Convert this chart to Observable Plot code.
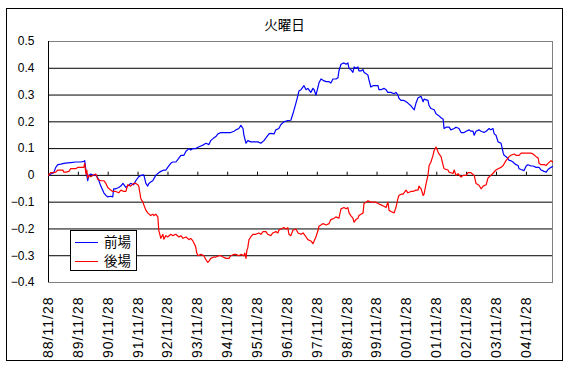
<!DOCTYPE html>
<html>
<head>
<meta charset="utf-8">
<script src="https://cdn.jsdelivr.net/npm/d3@7"></script>
<script src="https://cdn.jsdelivr.net/npm/@observablehq/plot@0.6"></script>
<style>
  html, body { margin: 0; padding: 0; background: #fff; }
  #wrap { position: relative; width: 580px; height: 378px; overflow: hidden; }
  #border { position: absolute; left: 6px; top: 8px; width: 555px; height: 351px; border: 1px solid #000; pointer-events: none; }
  #legend { position: absolute; left: 70px; top: 230px; width: 65px; height: 39px; border: 1px solid #000; background: #fff;
            font-family: "Noto Sans CJK JP", sans-serif; font-size: 13.5px; color: #000; }
  .lg { position: absolute; left: 4px; height: 18px; width: 70px; }
  .lg span.sw { position: absolute; left: 0; top: 9px; width: 23px; height: 0; border-top: 1px solid; }
  .lg span.tx { position: absolute; left: 29px; top: -1px; line-height: 18px; }
</style>
</head>
<body>
<div id="wrap">
  <div id="chart"></div>
  <div id="border"></div>
  <div id="legend">
    <div class="lg" style="top:2px"><span class="sw" style="border-color:#0000ff"></span><span class="tx">前場</span></div>
    <div class="lg" style="top:21px"><span class="sw" style="border-color:#ff0000"></span><span class="tx">後場</span></div>
  </div>
</div>
<script>
// ---- data (decimal years) ----
const title = "火曜日";
const seriesNames = ["前場", "後場"];
const yTicks = [-0.4, -0.3, -0.2, -0.1, 0, 0.1, 0.2, 0.3, 0.4, 0.5];
const xTickYears = [1988,1989,1990,1991,1992,1993,1994,1995,1996,1997,1998,1999,2000,2001,2002,2003,2004];

const zenbaT = [1988.91,1988.98,1989.08,1989.15,1989.22,1989.32,1989.42,1989.55,1989.65,1989.82,1989.99,1990.09,1990.12,1990.16,1990.19,1990.22,1990.26,1990.32,1990.42,1990.49,1990.56,1990.66,1990.76,1990.83,1990.89,1990.99,1991.06,1991.09,1991.16,1991.26,1991.33,1991.40,1991.50,1991.56,1991.66,1991.76,1991.83,1991.93,1992.00,1992.10,1992.17,1992.23,1992.27,1992.33,1992.40,1992.50,1992.60,1992.67,1992.77,1992.84,1992.90,1993.00,1993.07,1993.17,1993.24,1993.34,1993.44,1993.51,1993.61,1993.67,1993.74,1993.84,1993.91,1994.01,1994.11,1994.18,1994.28,1994.34,1994.44,1994.51,1994.58,1994.68,1994.85,1995.01,1995.12,1995.18,1995.28,1995.35,1995.42,1995.45,1995.52,1995.58,1995.68,1995.78,1995.92,1996.02,1996.12,1996.19,1996.29,1996.35,1996.46,1996.52,1996.62,1996.69,1996.79,1996.92,1997.02,1997.09,1997.19,1997.26,1997.29,1997.36,1997.46,1997.53,1997.59,1997.69,1997.76,1997.80,1997.86,1997.93,1997.96,1998.03,1998.10,1998.20,1998.30,1998.36,1998.43,1998.53,1998.60,1998.63,1998.70,1998.80,1998.87,1998.93,1998.97,1999.03,1999.10,1999.14,1999.20,1999.27,1999.30,1999.37,1999.44,1999.47,1999.54,1999.60,1999.64,1999.70,1999.77,1999.87,1999.94,1999.97,2000.04,2000.14,2000.21,2000.27,2000.37,2000.48,2000.54,2000.61,2000.64,2000.71,2000.81,2000.88,2000.94,2001.04,2001.11,2001.15,2001.21,2001.28,2001.38,2001.45,2001.48,2001.61,2001.65,2001.71,2001.82,2001.88,2001.95,2002.05,2002.12,2002.15,2002.22,2002.32,2002.38,2002.49,2002.55,2002.65,2002.72,2002.82,2002.89,2002.99,2003.05,2003.12,2003.16,2003.22,2003.32,2003.39,2003.49,2003.56,2003.66,2003.72,2003.79,2003.83,2003.89,2003.96,2004.06,2004.13,2004.16,2004.23,2004.29,2004.33,2004.39,2004.46,2004.50,2004.56,2004.63,2004.66,2004.73,2004.83,2004.90,2004.96,2005.06,2005.13,2005.23,2005.33,2005.40,2005.50,2005.57,2005.63,2005.73,2005.78];
const zenbaV = [0.000,0.005,0.010,0.030,0.040,0.042,0.045,0.047,0.048,0.050,0.050,0.052,0.055,0.020,0.000,-0.020,0.000,0.005,0.000,0.002,-0.010,-0.040,-0.065,-0.075,-0.080,-0.078,-0.080,-0.050,-0.050,-0.045,-0.040,-0.030,-0.045,-0.040,-0.030,-0.035,-0.020,-0.005,0.000,0.002,-0.030,-0.040,-0.030,-0.025,-0.020,0.000,0.010,0.015,0.020,0.020,0.030,0.045,0.050,0.050,0.060,0.075,0.075,0.090,0.100,0.095,0.100,0.100,0.105,0.110,0.115,0.120,0.115,0.130,0.140,0.145,0.155,0.160,0.160,0.160,0.165,0.170,0.175,0.187,0.175,0.150,0.120,0.130,0.125,0.125,0.125,0.120,0.130,0.140,0.155,0.157,0.155,0.170,0.175,0.190,0.200,0.205,0.206,0.230,0.270,0.300,0.315,0.320,0.335,0.320,0.325,0.310,0.325,0.320,0.300,0.330,0.345,0.360,0.355,0.350,0.350,0.345,0.360,0.360,0.365,0.390,0.415,0.420,0.415,0.420,0.400,0.395,0.385,0.405,0.400,0.405,0.390,0.390,0.395,0.385,0.380,0.375,0.355,0.330,0.335,0.335,0.335,0.320,0.320,0.325,0.320,0.310,0.310,0.305,0.310,0.300,0.288,0.280,0.280,0.275,0.270,0.260,0.250,0.245,0.270,0.290,0.295,0.275,0.285,0.280,0.260,0.250,0.245,0.230,0.225,0.215,0.210,0.175,0.180,0.180,0.170,0.175,0.180,0.175,0.160,0.160,0.165,0.170,0.165,0.165,0.150,0.165,0.170,0.165,0.160,0.165,0.175,0.170,0.175,0.155,0.150,0.125,0.120,0.085,0.075,0.070,0.063,0.056,0.055,0.050,0.045,0.040,0.037,0.025,0.022,0.018,0.035,0.040,0.035,0.035,0.030,0.030,0.020,0.015,0.012,0.022,0.030,0.033];

const gobaT = [1988.91,1988.98,1989.08,1989.15,1989.22,1989.32,1989.39,1989.42,1989.49,1989.59,1989.65,1989.75,1989.82,1989.89,1989.99,1990.09,1990.12,1990.16,1990.19,1990.22,1990.26,1990.32,1990.39,1990.49,1990.56,1990.66,1990.76,1990.83,1990.89,1990.99,1991.06,1991.16,1991.26,1991.33,1991.43,1991.50,1991.56,1991.66,1991.76,1991.83,1991.90,1991.93,1992.00,1992.07,1992.10,1992.17,1992.23,1992.33,1992.40,1992.44,1992.50,1992.57,1992.60,1992.67,1992.74,1992.77,1992.84,1992.90,1993.00,1993.07,1993.17,1993.27,1993.34,1993.41,1993.51,1993.61,1993.67,1993.74,1993.81,1993.84,1993.87,1993.91,1994.01,1994.11,1994.18,1994.24,1994.28,1994.34,1994.44,1994.51,1994.61,1994.68,1994.75,1994.85,1994.95,1995.01,1995.12,1995.18,1995.28,1995.35,1995.45,1995.48,1995.52,1995.55,1995.58,1995.62,1995.68,1995.75,1995.85,1995.95,1996.02,1996.09,1996.19,1996.25,1996.35,1996.42,1996.52,1996.59,1996.62,1996.69,1996.79,1996.86,1996.92,1996.96,1997.02,1997.09,1997.19,1997.26,1997.36,1997.43,1997.53,1997.59,1997.69,1997.76,1997.80,1997.86,1997.93,1997.96,1998.03,1998.10,1998.20,1998.30,1998.36,1998.47,1998.53,1998.63,1998.70,1998.80,1998.87,1998.93,1998.97,1999.03,1999.10,1999.14,1999.20,1999.27,1999.30,1999.37,1999.44,1999.47,1999.54,1999.60,1999.70,1999.81,1999.87,1999.94,2000.04,2000.14,2000.21,2000.27,2000.31,2000.37,2000.48,2000.54,2000.61,2000.64,2000.71,2000.78,2000.88,2000.94,2001.04,2001.11,2001.21,2001.28,2001.31,2001.38,2001.45,2001.48,2001.55,2001.61,2001.65,2001.71,2001.78,2001.82,2001.88,2001.95,2001.98,2002.05,2002.12,2002.15,2002.28,2002.32,2002.38,2002.45,2002.49,2002.55,2002.62,2002.72,2002.79,2002.89,2002.95,2002.99,2003.05,2003.16,2003.22,2003.32,2003.39,2003.46,2003.56,2003.62,2003.72,2003.79,2003.89,2003.96,2004.06,2004.13,2004.23,2004.29,2004.33,2004.39,2004.50,2004.56,2004.66,2004.73,2004.90,2005.06,2005.13,2005.23,2005.30,2005.33,2005.40,2005.50,2005.57,2005.63,2005.73,2005.78];
const gobaV = [0.000,0.010,0.010,0.012,0.020,0.020,0.020,0.012,0.012,0.015,0.025,0.025,0.025,0.030,0.030,0.030,0.045,0.005,0.020,-0.010,0.000,-0.005,0.000,0.005,-0.015,-0.020,-0.020,-0.030,-0.045,-0.055,-0.060,-0.060,-0.065,-0.055,-0.060,-0.060,-0.035,-0.040,-0.030,-0.030,-0.035,-0.040,-0.087,-0.100,-0.110,-0.130,-0.140,-0.150,-0.145,-0.150,-0.145,-0.155,-0.205,-0.235,-0.220,-0.238,-0.225,-0.230,-0.220,-0.225,-0.220,-0.230,-0.225,-0.235,-0.230,-0.240,-0.235,-0.245,-0.260,-0.270,-0.290,-0.300,-0.295,-0.300,-0.315,-0.325,-0.320,-0.310,-0.305,-0.305,-0.300,-0.300,-0.305,-0.310,-0.310,-0.300,-0.295,-0.295,-0.300,-0.295,-0.300,-0.290,-0.310,-0.280,-0.270,-0.240,-0.230,-0.220,-0.220,-0.215,-0.220,-0.210,-0.210,-0.220,-0.225,-0.215,-0.210,-0.215,-0.205,-0.200,-0.195,-0.200,-0.195,-0.220,-0.225,-0.205,-0.200,-0.215,-0.220,-0.215,-0.230,-0.240,-0.245,-0.255,-0.245,-0.230,-0.205,-0.190,-0.185,-0.180,-0.185,-0.180,-0.165,-0.160,-0.155,-0.160,-0.125,-0.120,-0.125,-0.120,-0.140,-0.150,-0.160,-0.175,-0.165,-0.160,-0.150,-0.145,-0.140,-0.105,-0.100,-0.095,-0.100,-0.100,-0.100,-0.105,-0.110,-0.115,-0.120,-0.100,-0.130,-0.135,-0.140,-0.120,-0.085,-0.075,-0.070,-0.070,-0.055,-0.065,-0.060,-0.060,-0.055,-0.055,-0.040,-0.050,-0.075,-0.070,-0.030,0.000,0.037,0.050,0.075,0.094,0.106,0.087,0.080,0.070,0.037,0.025,0.020,0.012,0.010,0.007,0.020,0.000,0.006,-0.006,0.000,0.000,0.010,0.010,0.010,0.000,-0.030,-0.037,-0.050,-0.040,-0.035,-0.010,0.000,0.008,0.020,0.025,0.030,0.037,0.056,0.064,0.070,0.075,0.080,0.075,0.075,0.083,0.083,0.083,0.080,0.070,0.065,0.045,0.040,0.040,0.037,0.045,0.055,0.050];

// ---- helpers ----
const toDate = t => { const y = Math.floor(t); return new Date(Date.UTC(y, 0, 1) + (t - y) * 365.25 * 864e5); };
const zenba = zenbaT.map((t, i) => ({date: toDate(t), value: zenbaV[i], series: seriesNames[0]}));
const goba = gobaT.map((t, i) => ({date: toDate(t), value: gobaV[i], series: seriesNames[1]}));
const tickDates = xTickYears.map(y => new Date(Date.UTC(y, 10, 28)));
const xStart = tickDates[0];
const xEnd = toDate(2005.78);
const fmtY = d => d === 0 ? "0" : (d < 0 ? "\u2212" : "") + Math.abs(d).toFixed(1);
const gridVals = yTicks.filter(v => v > -0.4 && v < 0.5);

const chart = Plot.plot({
  width: 580,
  height: 378,
  marginLeft: 48,
  marginRight: 28,
  marginTop: 41,
  marginBottom: 96,
  style: {fontFamily: "'Liberation Sans', Arial, sans-serif", fontSize: "12px", color: "#000", background: "#fff", overflow: "visible"},
  x: {type: "utc", domain: [xStart, xEnd]},
  y: {domain: [-0.4, 0.5]},
  marks: [
    Plot.ruleY(gridVals, {stroke: "#000", strokeWidth: 1}),
    Plot.frame({stroke: "#808080"}),
    Plot.ruleX([xStart], {stroke: "#000"}),
    Plot.ruleX(tickDates, {x: d => d, y1: 0, y2: 0.012, stroke: "#000"}),
    Plot.line(zenba, {x: "date", y: "value", stroke: "#0000ff", strokeWidth: 1.2}),
    Plot.line(goba, {x: "date", y: "value", stroke: "#ff0000", strokeWidth: 1.2}),
    Plot.axisY({ticks: yTicks, tickSize: 0, tickPadding: 14, tickFormat: fmtY, fontSize: 12, label: null}),
    Plot.axisX({ticks: tickDates, tickFormat: d3.utcFormat("%y/%m/%d"), tickRotate: -90, tickSize: 0, tickPadding: 14, fontSize: 14, label: null}),
    Plot.text([title], {frameAnchor: "top", dx: -16, dy: -21, fontSize: 13.5, fill: "#000"})
  ]
});
// apply fonts directly on the text elements
d3.select(chart).selectAll("text").each(function() {
  const t = this.textContent;
  if (/^\d\d\/\d\d\/\d\d$/.test(t)) {
    this.setAttribute("letter-spacing", "1px");
    this.style.letterSpacing = "1px";
  } else if (t === title) {
    this.style.fontFamily = "'Noto Sans CJK JP', sans-serif";
  }
});
document.getElementById("chart").appendChild(chart);
</script>
</body>
</html>
